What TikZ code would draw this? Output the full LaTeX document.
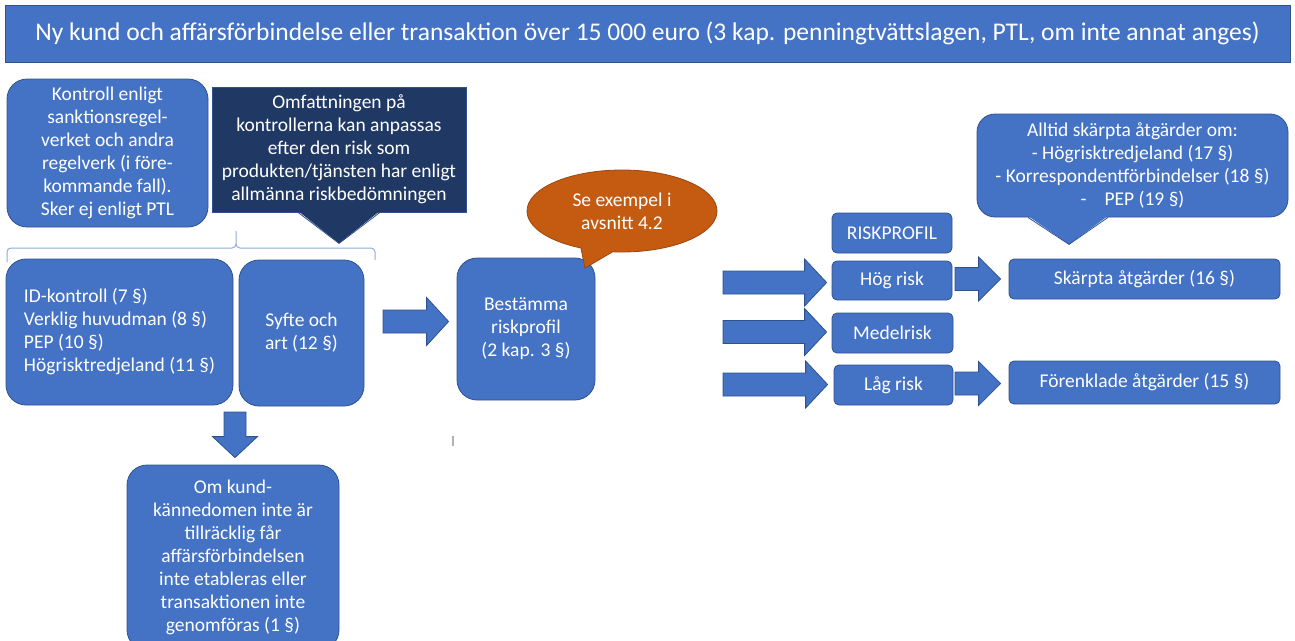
\documentclass[tikz,border=0pt]{standalone}
\usepackage{fontspec}
\setmainfont{Carlito}
\usepackage{tikz}
\usetikzlibrary{shapes.callouts,positioning,calc,backgrounds}

\definecolor{boxblue}{HTML}{4472C4}
\definecolor{edgeblue}{HTML}{2F528F}
\definecolor{navy}{HTML}{203864}
\definecolor{rust}{HTML}{C55A11}
\definecolor{rustedge}{HTML}{9A4710}
\definecolor{braceblue}{HTML}{8FAADC}

% block arrow to the right: tail coordinate, target anchor, gap, half head width
\newcommand{\rightblock}[4]{%
  \filldraw[blockarrow] let \p1=(#1), \p2=($(#2)+(-#3,0)$) in
    (\x1,\y1+11.5pt) -- (\x2-22pt,\y1+11.5pt) -- (\x2-22pt,\y1+#4pt) -- (\x2,\y1)
    -- (\x2-22pt,\y1-#4pt) -- (\x2-22pt,\y1-11.5pt) -- (\x1,\y1-11.5pt) -- cycle;}
% block arrow downwards: tail coordinate, target anchor, gap
\newcommand{\downblock}[3]{%
  \filldraw[blockarrow] let \p1=(#1), \p2=($(#2)+(0,-#3)$) in
    (\x1-11pt,\y1) -- (\x1-11pt,\y2+21pt) -- (\x1-22.5pt,\y2+21pt) -- (\x1,\y2)
    -- (\x1+22.5pt,\y2+21pt) -- (\x1+11pt,\y2+21pt) -- (\x1+11pt,\y1) -- cycle;}

\begin{document}
\begin{tikzpicture}[x=1pt, y=-1pt]
        % Define styles
        \tikzset{
            box/.style={draw=edgeblue, fill=boxblue, text=white, align=center, inner sep=0pt,
                line width=0.8pt, rounded corners=20pt, font=\fontsize{19.5}{23}\selectfont},
            riskbox/.style={box, rounded corners=5pt},
            blockarrow/.style={fill=boxblue, draw=edgeblue, line width=0.8pt},
            brace/.style={draw=braceblue, line width=1pt}
        }
        \useasboundingbox (0,0) rectangle (1295,640);
        \clip (0,0) rectangle (1295,640);

        % Title
        \node[box, rounded corners=0pt, minimum width=1285, minimum height=57,
            font=\fontsize{25.5}{30}\selectfont] (title) at (647.5,33.5)
            {Ny kund och affärsförbindelse eller transaktion över 15 000 euro (3 kap. penningtvättslagen, PTL, om inte annat anges)};

        % Left column
        \node[box, minimum width=201, minimum height=148] (kontroll) at (107.5,153)
            {Kontroll enligt\\sanktionsregel-\\verket och andra\\regelverk (i före-\\kommande fall).\\Sker ej enligt PTL};
        \node[box, fill=navy, rounded corners=0pt, minimum width=254, minimum height=125] (omf) at (339,149.5)
            {Omfattningen på\\kontrollerna kan anpassas\\efter den risk som\\produkten/tjänsten har enligt\\allmänna riskbedömningen};
        \fill[navy] ($(omf.south)+(-41,-1.5)$) -- ($(omf.south)+(0,31)$) -- ($(omf.south)+(41,-1.5)$) -- cycle;
        \draw[edgeblue, line width=0.8pt] ($(omf.south)+(-41,0)$) -- ($(omf.south)+(0,31)$) -- ($(omf.south)+(41,0)$);

        % Brace over the checks
        \draw[brace] (7,262) -- (7,252) to[out=90,in=180] (11,248) -- (232,248) to[out=0,in=-90] (236,244) -- (236,231)
            (236,244) to[out=-90,in=180] (240,248) -- (371,248) to[out=0,in=90] (375,252) -- (375,260);

        \node[box, align=left, minimum width=227, minimum height=146] (id) at (119.5,332)
            {ID-kontroll (7 §)\\Verklig huvudman (8 §)\\PEP (10 §)\\Högrisktredjeland (11 §)};
        \node[box, minimum width=125, minimum height=146] (syfte) at (301.5,333) {Syfte och\\art (12 §)};
        \node[box, minimum width=212, minimum height=185] (omkund) at (233,557.5)
            {Om kund-\\kännedomen inte är\\tillräcklig får\\affärsförbindelsen\\inte etableras eller\\transaktionen inte\\genomföras (1 §)};

        % Risk profile
        \node[box, minimum width=138, minimum height=142] (best) at (526,329) {Bestämma\\riskprofil\\(2 kap. 3 §)};
        \node[ellipse callout, fill=rust, draw=rustedge, line width=0.8pt, text=white, align=center,
            font=\fontsize{19.5}{23}\selectfont, minimum width=190, minimum height=82,
            callout absolute pointer={(585,268)}, callout pointer arc=20] (exempel) at (622,211)
            {Se exempel i\\avsnitt 4.2};

        \node[riskbox, minimum width=120, minimum height=40] (profil) at (892,233) {RISKPROFIL};
        \node[riskbox, minimum width=120, minimum height=39] (hog) at (892,280.5) {Hög risk};
        \node[riskbox, minimum width=121, minimum height=40] (medel) at (892.5,333) {Medelrisk};
        \node[riskbox, minimum width=119, minimum height=40] (lag) at (893.5,385) {Låg risk};

        % Measures
        \node[riskbox, minimum width=271, minimum height=40] (skarpta) at (1144.5,279) {Skärpta åtgärder (16 §)};
        \node[riskbox, minimum width=271, minimum height=43] (forenklade) at (1144.5,382.5) {Förenklade åtgärder (15 §)};
        \node[box, rounded corners=18pt, minimum width=311, minimum height=103] (alltid) at (1132.5,165.5)
            {Alltid skärpta åtgärder om:\\- Högrisktredjeland (17 §)\\- Korrespondentförbindelser (18 §)\\-\hspace{18pt}PEP (19 §)};
        \fill[boxblue] ($(alltid.south)+(-104.5,-1.5)$) -- ($(alltid.south)+(-63.5,27)$) -- ($(alltid.south)+(-24.5,-1.5)$) -- cycle;
        \draw[edgeblue, line width=0.8pt] ($(alltid.south)+(-104.5,0)$) -- ($(alltid.south)+(-63.5,27)$) -- ($(alltid.south)+(-24.5,0)$);

        % Arrow tails
        \coordinate (checksout) at (383,321.5);
        \coordinate (down0) at (235,412);
        \coordinate (risk1) at (723,282.5);
        \coordinate (risk2) at (723,332);
        \coordinate (risk3) at (723,384.5);
        \coordinate (hogout) at (955,279);
        \coordinate (lagout) at (955,383.5);

        % Draw arrows
        \rightblock{checksout}{best.west}{8}{24}
        \downblock{down0}{omkund.north}{7}
        \rightblock{risk1}{hog.west}{5}{23.5}
        \rightblock{risk2}{medel.west}{5}{23.5}
        \rightblock{risk3}{lag.west}{6}{23.5}
        \rightblock{hogout}{skarpta.west}{8}{22}
        \rightblock{lagout}{forenklade.west}{8}{22}

        % Stray mark
        \draw[gray!60, line width=1.5pt] (453,436) -- (453,446);
\end{tikzpicture}
\end{document}
